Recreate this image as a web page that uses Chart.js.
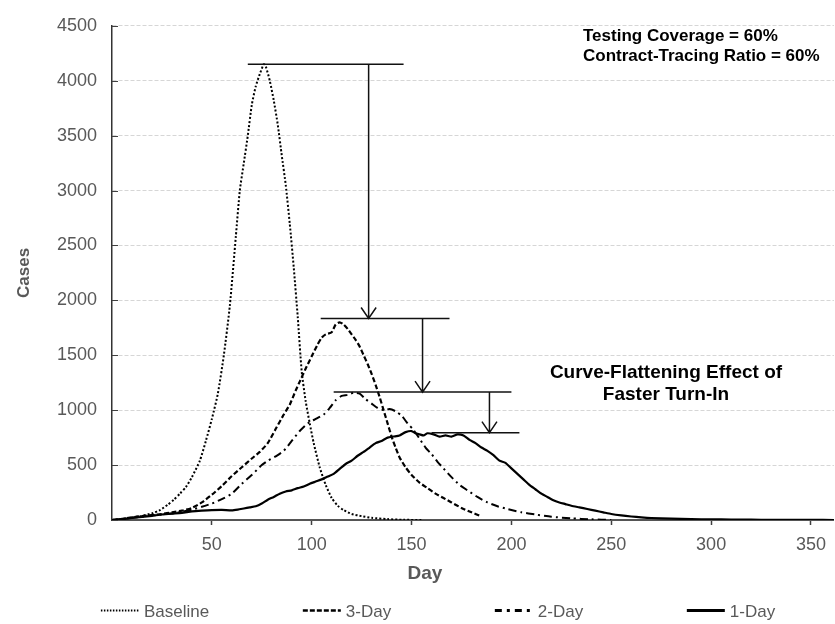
<!DOCTYPE html>
<html>
<head>
<meta charset="utf-8">
<script src="https://cdn.jsdelivr.net/npm/chart.js@4.4.1/dist/chart.umd.min.js"></script>
<style>
  html, body { margin: 0; padding: 0; background: #fff; }
  #wrap { width: 835px; height: 624px; }
</style>
</head>
<body>
<div id="wrap"><canvas id="casesChart"></canvas></div>
<script>
// day -> cases
const baselineDays = [0, 5, 10, 15, 20, 24, 28, 31, 34, 37, 40, 44, 47, 50, 53, 56, 59, 62, 64, 66, 68, 70, 72, 74, 76, 77, 79, 81, 83, 85, 87, 89, 91, 93, 95, 97, 99, 101, 104, 107, 110, 113, 116, 120, 125, 130, 138, 146, 155];
const baselineCases = [0, 10, 22, 38, 60, 90, 140, 185, 240, 300, 390, 540, 720, 920, 1150, 1500, 1950, 2580, 3000, 3250, 3500, 3780, 3950, 4060, 4150, 4130, 4000, 3820, 3600, 3320, 3050, 2700, 2300, 1850, 1350, 1080, 880, 700, 480, 320, 200, 130, 90, 55, 35, 20, 8, 2, 0];

const day3Days = [0, 5, 10, 15, 20, 25, 30, 35, 40, 45, 50, 55, 60, 65, 70, 74, 78, 82, 86, 89, 92, 94, 97, 100, 103, 105, 107, 110, 112, 114, 116, 118, 120, 122, 124, 126, 128, 130, 132, 134, 136, 138, 140, 142, 144, 147, 150, 154, 158, 162, 166, 170, 175, 180, 184];
const day3Cases = [0, 10, 25, 35, 45, 55, 70, 85, 110, 160, 230, 310, 400, 480, 560, 620, 700, 830, 960, 1050, 1180, 1260, 1380, 1490, 1600, 1660, 1690, 1710, 1780, 1800, 1780, 1740, 1690, 1640, 1580, 1500, 1420, 1330, 1230, 1120, 1000, 880, 760, 660, 570, 480, 410, 340, 290, 240, 200, 160, 110, 70, 40];

const day2Days = [0, 10, 20, 30, 35, 40, 45, 50, 55, 60, 65, 70, 75, 78, 82, 86, 90, 94, 98, 102, 106, 109, 112, 115, 118, 121, 124, 127, 130, 133, 136, 139, 142, 145, 148, 151, 154, 157, 160, 163, 166, 170, 174, 178, 183, 188, 193, 198, 205, 212, 220, 230, 240, 250];
const day2Cases = [0, 20, 40, 60, 75, 95, 120, 150, 190, 240, 330, 410, 500, 540, 580, 630, 720, 810, 880, 920, 960, 1020, 1090, 1130, 1140, 1160, 1150, 1100, 1060, 1020, 1000, 1010, 990, 950, 880, 820, 740, 660, 600, 530, 470, 390, 320, 270, 210, 160, 125, 100, 70, 50, 30, 15, 6, 0];

const day1Days = [0, 5, 10, 15, 20, 25, 30, 35, 40, 45, 50, 55, 60, 63, 66, 69, 72, 75, 78, 81, 84, 87, 90, 93, 96, 99, 102, 105, 108, 111, 114, 117, 120, 123, 126, 129, 132, 135, 138, 141, 144, 147, 150, 152, 154, 156, 158, 161, 164, 167, 170, 173, 176, 179, 182, 185, 188, 191, 194, 197, 200, 203, 206, 209, 212, 215, 218, 221, 224, 227, 230, 234, 238, 242, 246, 250, 255, 260, 265, 270, 280, 290, 300, 310, 320, 330, 340, 350, 362];
const day1Cases = [0, 8, 18, 28, 38, 50, 58, 65, 78, 85, 90, 92, 88, 95, 105, 115, 125, 150, 185, 210, 240, 260, 270, 290, 305, 330, 350, 370, 395, 420, 465, 510, 540, 585, 620, 660, 700, 720, 750, 760, 770, 800, 810, 790, 780, 770, 790, 780, 760, 770, 760, 780, 770, 730, 700, 660, 630, 590, 540, 520, 470, 420, 370, 320, 280, 240, 210, 180, 160, 145, 130, 115, 100, 85, 70, 55, 42, 32, 24, 18, 12, 8, 6, 4, 3, 2, 1, 1, 0];

const seriesLabels = ['Baseline', '3-Day', '2-Day', '1-Day'];
const xTicks = [50, 100, 150, 200, 250, 300, 350];

// flattening markers (days / case levels)
const capLevels = [4150, 1835, 1165, 795];
const capFrom = [68, 104.5, 111, 160];
const capTo = [146, 169, 200, 204];
const arrowDays = [128.5, 155.5, 189];

const noteTop = ['Testing Coverage = 60%', 'Contract-Tracing Ratio = 60%'];
const noteMid = ['Curve-Flattening Effect of', 'Faster Turn-In'];

const FONT = "'Liberation Sans', Arial, sans-serif";
const GREY = '#595959';

function toPoints(days, cases) {
  return days.map((d, i) => ({ x: d, y: cases[i] }));
}

const dashes = [[2, 2], [5, 2.5], [8, 4, 2, 4], []];
const widths = [2, 2.2, 2, 2.2];
const legendDashes = [[1.5, 1.5], [5, 2], [7, 5, 3, 5], []];
const legendWidths = [1.8, 2.5, 3, 3];

const decorPlugin = {
  id: 'decor',
  afterDatasetsDraw(chart) {
    const { ctx, chartArea, scales: { x, y } } = chart;
    ctx.save();
    // short inward ticks on the y axis
    ctx.strokeStyle = '#404040';
    ctx.lineWidth = 1;
    y.ticks.forEach(t => {
      const py = Math.round(y.getPixelForValue(t.value)) + 0.5;
      ctx.beginPath();
      ctx.moveTo(chartArea.left, py);
      ctx.lineTo(chartArea.left + 6, py);
      ctx.stroke();
    });
    // peak caps and arrows
    ctx.strokeStyle = '#111';
    ctx.lineWidth = 1.5;
    capLevels.forEach((lvl, i) => {
      const py = y.getPixelForValue(lvl);
      ctx.beginPath();
      ctx.moveTo(x.getPixelForValue(capFrom[i]), py);
      ctx.lineTo(x.getPixelForValue(capTo[i]), py);
      ctx.stroke();
    });
    arrowDays.forEach((d, i) => {
      const px = x.getPixelForValue(d);
      const y1 = y.getPixelForValue(capLevels[i]);
      const y2 = y.getPixelForValue(capLevels[i + 1]);
      ctx.beginPath();
      ctx.moveTo(px, y1);
      ctx.lineTo(px, y2);
      ctx.moveTo(px - 7.5, y2 - 11);
      ctx.lineTo(px, y2);
      ctx.lineTo(px + 7.5, y2 - 11);
      ctx.stroke();
    });
    ctx.restore();
  },
  afterDraw(chart) {
    const { ctx } = chart;
    ctx.save();
    ctx.fillStyle = '#000';
    ctx.textBaseline = 'alphabetic';
    ctx.font = `bold 17px ${FONT}`;
    ctx.textAlign = 'left';
    ctx.fillText(noteTop[0], 583, 41);
    ctx.fillText(noteTop[1], 583, 61);
    ctx.font = `bold 19px ${FONT}`;
    ctx.textAlign = 'center';
    ctx.fillText(noteMid[0], 666, 378);
    ctx.fillText(noteMid[1], 666, 400);

    // x axis title
    ctx.fillStyle = GREY;
    ctx.font = `bold 19px ${FONT}`;
    ctx.fillText('Day', 425, 579);

    // legend
    ctx.font = `17px ${FONT}`;
    ctx.textAlign = 'left';
    chart.data.datasets.forEach((ds, i) => {
      const tw = ctx.measureText(ds.label).width;
      const w = 38 + 5 + tw;
      const cx = 443 + (i - 1.5) * 192;
      const x0 = cx - w / 2;
      ctx.strokeStyle = '#000';
      ctx.lineWidth = legendWidths[i];
      ctx.setLineDash(legendDashes[i]);
      ctx.beginPath();
      ctx.moveTo(x0, 610.5);
      ctx.lineTo(x0 + 38, 610.5);
      ctx.stroke();
      ctx.setLineDash([]);
      ctx.fillStyle = GREY;
      ctx.fillText(ds.label, x0 + 43, 617);
    });
    ctx.restore();
  }
};

const ctx = document.getElementById('casesChart').getContext('2d');
new Chart(ctx, {
  type: 'line',
  data: {
    datasets: [
      { label: seriesLabels[0], data: toPoints(baselineDays, baselineCases) },
      { label: seriesLabels[1], data: toPoints(day3Days, day3Cases) },
      { label: seriesLabels[2], data: toPoints(day2Days, day2Cases) },
      { label: seriesLabels[3], data: toPoints(day1Days, day1Cases) }
    ].map((ds, i) => Object.assign(ds, {
      borderColor: '#000',
      backgroundColor: '#000',
      borderWidth: widths[i],
      borderDash: dashes[i],
      pointRadius: 0,
      tension: 0.2,
      fill: false
    }))
  },
  options: {
    responsive: true,
    maintainAspectRatio: false,
    animation: false,
    layout: { padding: { top: 19, right: 0, bottom: 36, left: 0 } },
    plugins: {
      legend: { display: false },
      tooltip: { enabled: false }
    },
    scales: {
      x: {
        type: 'linear',
        min: 0,
        max: 361.5,
        afterBuildTicks: s => { s.ticks = xTicks.map(v => ({ value: v })); },
        afterFit: s => { s.height = 68; },
        ticks: { color: GREY, font: { family: FONT, size: 18 }, padding: 9, maxRotation: 0, callback: v => String(v) },
        grid: { drawOnChartArea: false, drawTicks: true, tickLength: 5, tickColor: '#404040', tickWidth: 1.5 },
        border: { color: '#555', width: 2 }
      },
      y: {
        min: 0,
        max: 4500,
        afterFit: s => { s.width = 112; },
        ticks: { stepSize: 500, color: GREY, font: { family: FONT, size: 18 }, padding: 15, callback: v => String(v) },
        grid: {
          drawTicks: false,
          lineWidth: 1,
          color: c => (c.tick && c.tick.value === 0) ? 'rgba(0,0,0,0)' : '#d6d6d6'
        },
        border: { color: '#333', width: 1.5, dash: [4, 2] },
        title: {
          display: true,
          text: 'Cases',
          color: GREY,
          font: { family: FONT, size: 17, weight: 'bold' },
          padding: { top: 14, bottom: 0 }
        }
      }
    }
  },
  plugins: [decorPlugin]
});
</script>
</body>
</html>
